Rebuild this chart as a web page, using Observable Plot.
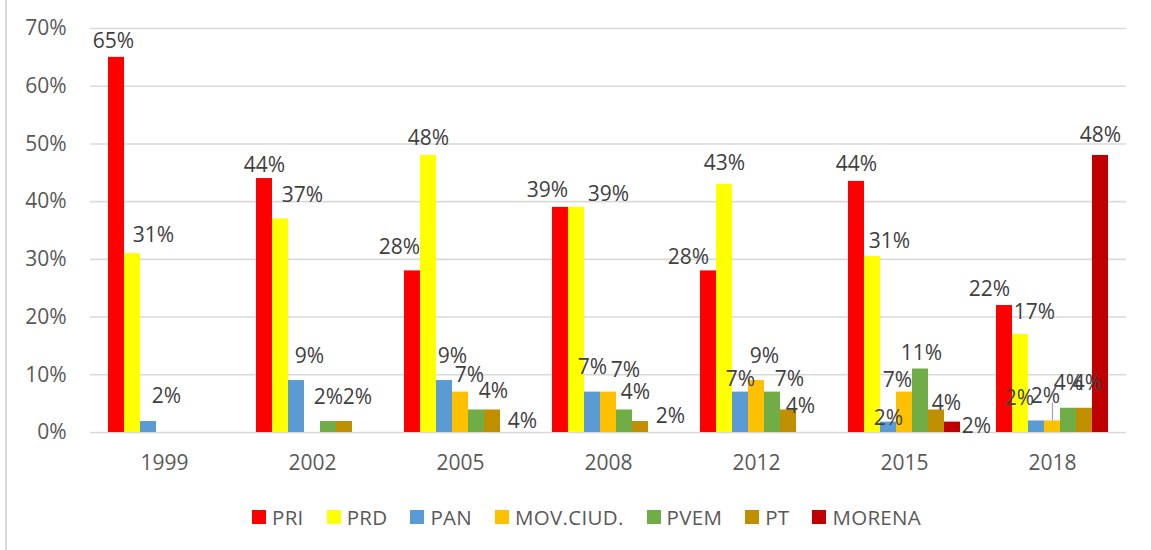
<!DOCTYPE html>
<html>
<head>
<meta charset="utf-8">
<script src="https://cdn.jsdelivr.net/npm/d3@7"></script>
<script src="https://cdn.jsdelivr.net/npm/@observablehq/plot@0.6"></script>
<style>
  html, body { margin: 0; padding: 0; background: #fff; }
  body { width: 1151px; height: 550px; position: relative; overflow: hidden; font-family: "Open Sans", sans-serif; }
  #frame { position: absolute; left: 5px; top: 0; width: 2px; height: 550px; background: #d9d9d9; }
  #chart { position: absolute; left: 0; top: 0; }
  #legend { position: absolute; left: 252px; top: 503px; display: flex; align-items: center; color: #595959; font-size: 20.5px; letter-spacing: 0.3px; }
  #legend .item { display: flex; align-items: center; margin-right: 23px; }
  #legend .sw { width: 14px; height: 14px; margin-right: 6px; }
</style>
</head>
<body>
<div id="frame"></div>
<div id="chart"></div>
<div id="legend"></div>
<script>
// ---- data ----
const years = ["1999", "2002", "2005", "2008", "2012", "2015", "2018"];
const parties = ["PRI", "PRD", "PAN", "MOV.CIUD.", "PVEM", "PT", "MORENA"];
const partyColors = ["#FF0000", "#FFFF00", "#5B9BD5", "#FFC000", "#70AD47", "#BF8F00", "#C00000"];
const PRI    = [65, 44, 28, 39, 28, 43.5, 22];
const PRD    = [31, 37, 48, 39, 43, 30.5, 17];
const PAN    = [1.9, 9, 9, 7, 7, 1.8, 2];
const MOV    = [null, null, 7, 7, 9, 7, 2];
const PVEM   = [null, 1.9, 3.9, 3.9, 7, 11, 4.2];
const PT     = [null, 1.9, 3.9, 1.9, 3.9, 3.9, 4.2];
const MORENA = [null, null, null, null, null, 1.8, 48];
const yTicks = [0, 10, 20, 30, 40, 50, 60, 70];

// ---- label placement tweaks (pixels): horizontal shift and gap above bar top ----
const labelDx = [
  [-3, 0, -13, -13, -20, 0, -15],
  [21, 22, 0, 32, 0, 17, 14],
  [18, 13, 8, 0, 0, 0, -17],
  [0, 0, 9, 17, 8, -7, -7],
  [0, 0, 17, 11, 17, 1, 0],
  [0, 13, 30, 30, 12, 10, 3],
  [0, 0, 0, 0, 0, 24, 0]
];
const labelGap = [
  [9, 7, 17, 10, 7, 10, 10],
  [12, 17, 10, 6, 14, 8, 15],
  [19, 18, 18, 18, 6, -3, 16],
  [0, 0, 10, 15, 18, 5, 18],
  [0, 18, 12, 11, 6, 9, 18],
  [0, 18, -18, -1, -3, 0, 18],
  [0, 0, 0, 0, 0, -11, 13]
];

const series = [PRI, PRD, PAN, MOV, PVEM, PT, MORENA];
const rows = [];
series.forEach((vals, pi) => {
  vals.forEach((v, yi) => {
    if (v != null) rows.push({year: years[yi], party: parties[pi], value: v, pi, yi});
  });
});

const W = 1151, H = 490, mTop = 28, mBottom = 58, mLeft = 87, mRight = 23;
const pxPerUnit = (H - mTop - mBottom) / 70;

const labelMarks = rows.map(d => Plot.text([d], {
  fx: "year", x: "party", y: "value",
  text: r => Math.round(r.value) + "%",
  dx: labelDx[d.pi][d.yi],
  dy: -labelGap[d.pi][d.yi],
  lineAnchor: "bottom",
  fontSize: 21,
  fill: "#404040"
}));

// leader line for the 2018 MOV.CIUD. label
const leader = rows.filter(d => d.year === "2018" && d.party === "MOV.CIUD.");

const chart = Plot.plot({
  width: W,
  height: H,
  marginTop: mTop,
  marginBottom: mBottom,
  marginLeft: mLeft,
  marginRight: mRight,
  style: {fontFamily: "Open Sans", fontSize: "21px", color: "#595959", background: "transparent"},
  fx: {domain: years, padding: 0, axis: "bottom", tickSize: 0, tickPadding: 23, label: null},
  x: {domain: parties, paddingInner: 0, paddingOuter: 1.1, axis: null},
  y: {domain: [0, 70], ticks: yTicks, tickFormat: d => d + "%", tickSize: 0, tickPadding: 24, label: null},
  color: {domain: parties, range: partyColors},
  marks: [
    Plot.ruleY(yTicks, {stroke: "#d9d9d9", strokeWidth: 1.6}),
    Plot.barY(rows, {fx: "year", x: "party", y: "value", fill: "party", inset: 0}),
    Plot.ruleX(leader, {fx: "year", x: "party", y1: "value", y2: d => d.value + labelGap[d.pi][d.yi] / pxPerUnit, stroke: "#a6a6a6", strokeWidth: 1.2}),
    ...labelMarks
  ]
});
document.getElementById("chart").appendChild(chart);

// legend
const legend = document.getElementById("legend");
parties.forEach((p, i) => {
  const item = document.createElement("div");
  item.className = "item";
  const sw = document.createElement("div");
  sw.className = "sw";
  sw.style.background = partyColors[i];
  const t = document.createElement("span");
  t.textContent = p;
  item.appendChild(sw);
  item.appendChild(t);
  legend.appendChild(item);
});
</script>
</body>
</html>
